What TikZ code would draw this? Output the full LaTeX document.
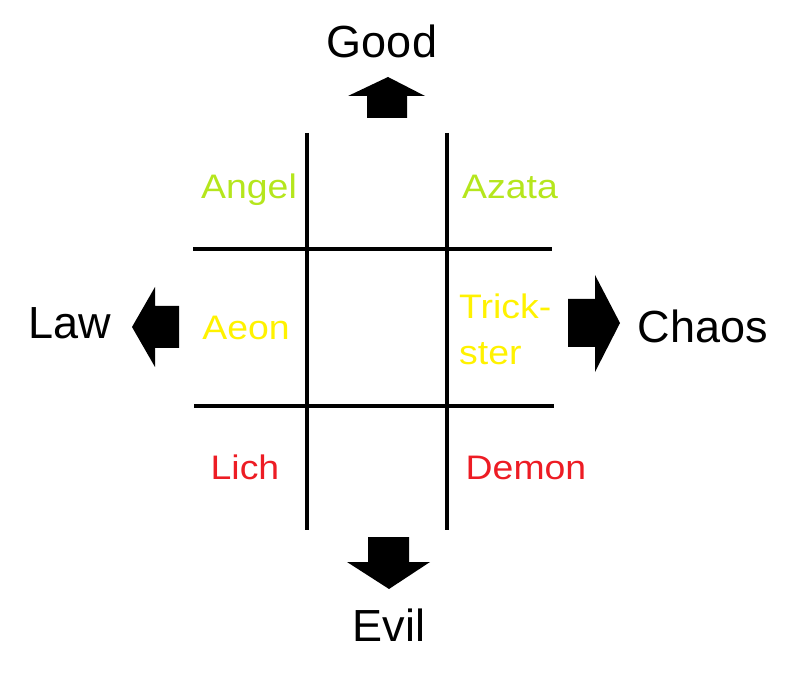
\documentclass[tikz,border=0pt]{standalone}
\usepackage{fontspec}
\setmainfont{Liberation Sans}
\newfontfamily\bigfont{Liberation Sans}
\newfontfamily\labfont[FakeStretch=1.1]{Liberation Sans}
\definecolor{lime}{HTML}{B5E61D}
\definecolor{yel}{HTML}{FFF200}
\definecolor{red2}{HTML}{ED1C24}
\tikzset{
  axis/.style={inner sep=0, anchor=base, font=\bigfont\fontsize{45}{48}\selectfont, text=black},
  lab/.style={inner sep=0, anchor=base, font=\labfont\fontsize{34}{45}\selectfont},
  grid line/.style={line width=3.5pt, line cap=butt},
  bigarrow/.style={fill=black, draw=none}
}
\begin{document}
\begin{tikzpicture}[x=1pt,y=-1pt]
\useasboundingbox (0,0) rectangle (800,700);
% grid
\coordinate (v1t) at (307,133); \coordinate (v1b) at (307,530);
\coordinate (v2t) at (447,133); \coordinate (v2b) at (447,530);
\coordinate (h1l) at (193,249); \coordinate (h1r) at (552,249);
\coordinate (h2l) at (194,406); \coordinate (h2r) at (554,406);
\draw[grid line] (v1t) -- (v1b);
\draw[grid line] (v2t) -- (v2b);
\draw[grid line] (h1l) -- (h1r);
\draw[grid line] (h2l) -- (h2r);
% arrows
\fill[bigarrow] (367,118) -- (367,96) -- (348,96) -- (388,77) -- (425,96) -- (407,96) -- (407,118) -- cycle;
\fill[bigarrow] (368,537) -- (368,562) -- (347,562) -- (389,589) -- (430,562) -- (409,562) -- (409,537) -- cycle;
\fill[bigarrow] (179,306) -- (155,306) -- (155,287) -- (132,327) -- (155,367) -- (155,348) -- (179,348) -- cycle;
\fill[bigarrow] (568,299) -- (595,299) -- (595,275) -- (620,323) -- (595,372) -- (595,347) -- (568,347) -- cycle;
% axis labels
\node[axis] (good) at (382,58) {Good};
\node[axis] (evil) at (389,641) {Evil};
\node[axis] (law) at (70,338) {Law};
\node[axis] (chaos) at (703,342) {Chaos};
% cell labels
\node[lab, text=lime] (angel) at (249,199) {Angel};
\node[lab, text=lime] (azata) at (510,199) {Azata};
\node[lab, text=yel] (aeon) at (246,339) {Aeon};
\node[lab, text=yel, anchor=base west] (trick) at (459,319) {Trick-};
\node[lab, text=yel, anchor=base west] (ster) at (459,364) {ster};
\node[lab, text=red2] (lich) at (245,479) {Lich};
\node[lab, text=red2] (demon) at (526,479) {Demon};
\end{tikzpicture}
\end{document}
